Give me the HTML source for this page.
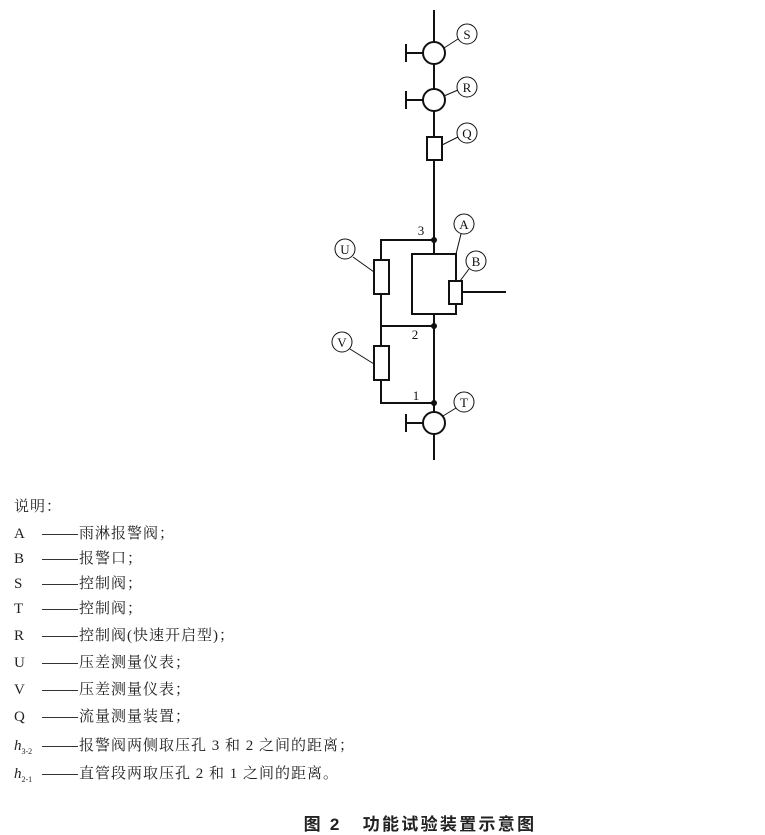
<!DOCTYPE html>
<html><head><meta charset="utf-8"><style>
body{margin:0;width:765px;height:833px;background:#fff;position:relative;overflow:hidden;font-family:"Liberation Serif","Noto Serif CJK SC",serif;color:#222}
.l{position:absolute;left:14px;font-size:15px;line-height:16px;white-space:nowrap;letter-spacing:1px}
.k{display:inline-block;width:28px;letter-spacing:0}
.d{display:inline-block;width:36px;border-top:1px solid #333;vertical-align:middle;margin-right:1px}
.cap{position:absolute;top:810px;left:0;width:840px;text-align:center;font-family:"Liberation Sans","Noto Sans CJK SC",sans-serif;font-size:17px;font-weight:bold;letter-spacing:2.3px}
</style></head><body>
<svg width="765" height="500" style="position:absolute;left:0;top:0" font-family="Liberation Serif, serif" font-size="13">
<g stroke="#111" stroke-width="2" fill="none">
<line x1="434" y1="10" x2="434" y2="460"/>
<circle cx="434" cy="53" r="11" fill="#fff"/><line x1="406" y1="53" x2="423" y2="53"/><line x1="406" y1="44" x2="406" y2="62"/>
<circle cx="434" cy="100" r="11" fill="#fff"/><line x1="406" y1="100" x2="423" y2="100"/><line x1="406" y1="91" x2="406" y2="109"/>
<rect x="427" y="137" width="15" height="23" fill="#fff"/>
<polyline points="434,240 381,240 381,403 434,403"/>
<line x1="381" y1="326" x2="434" y2="326"/>
<rect x="374" y="260" width="15" height="34" fill="#fff"/>
<rect x="374" y="346" width="15" height="34" fill="#fff"/>
<rect x="412" y="254" width="44" height="60" fill="#fff"/>
<rect x="449" y="281" width="13" height="23" fill="#fff"/>
<line x1="462" y1="292" x2="506" y2="292"/>
<circle cx="434" cy="423" r="11" fill="#fff"/><line x1="406" y1="423" x2="423" y2="423"/><line x1="406" y1="414" x2="406" y2="432"/>
</g>
<g stroke="#111" stroke-width="1" fill="#fff">
<line x1="444" y1="48" x2="458" y2="39"/><circle cx="467" cy="34" r="10"/>
<line x1="444" y1="96" x2="458" y2="90"/><circle cx="467" cy="87" r="10"/>
<line x1="442" y1="145" x2="458" y2="137"/><circle cx="467" cy="133" r="10"/>
<line x1="456" y1="254" x2="461" y2="234"/><circle cx="464" cy="224" r="10"/>
<line x1="460" y1="281" x2="469" y2="269"/><circle cx="476" cy="261" r="10"/>
<line x1="353" y1="257" x2="374" y2="272"/><circle cx="345" cy="249" r="10"/>
<line x1="350" y1="349" x2="374" y2="364"/><circle cx="342" cy="342" r="10"/>
<line x1="443" y1="416" x2="456" y2="408"/><circle cx="464" cy="402" r="10"/>
</g>
<g fill="#111"><circle cx="434" cy="240" r="3"/><circle cx="434" cy="326" r="3"/><circle cx="434" cy="403" r="3"/></g>
<g fill="#111" text-anchor="middle">
<text x="467" y="39">S</text><text x="467" y="92">R</text><text x="467" y="138">Q</text>
<text x="464" y="229">A</text><text x="476" y="266">B</text><text x="345" y="254">U</text>
<text x="342" y="347">V</text><text x="464" y="407">T</text>
<text x="421" y="235">3</text><text x="415" y="339">2</text><text x="416" y="400">1</text>
</g>
</svg>
<div class="l" style="top:499px">说明：</div>
<div class="l" style="top:526px"><span class="k">A</span><span class="d"></span>雨淋报警阀；</div>
<div class="l" style="top:551px"><span class="k">B</span><span class="d"></span>报警口；</div>
<div class="l" style="top:576px"><span class="k">S</span><span class="d"></span>控制阀；</div>
<div class="l" style="top:601px"><span class="k">T</span><span class="d"></span>控制阀；</div>
<div class="l" style="top:628px"><span class="k">R</span><span class="d"></span>控制阀(快速开启型)；</div>
<div class="l" style="top:655px"><span class="k">U</span><span class="d"></span>压差测量仪表；</div>
<div class="l" style="top:682px"><span class="k">V</span><span class="d"></span>压差测量仪表；</div>
<div class="l" style="top:709px"><span class="k">Q</span><span class="d"></span>流量测量装置；</div>
<div class="l" style="top:738px"><span class="k"><i>h</i><sub style="font-size:8px">3-2</sub></span><span class="d"></span>报警阀两侧取压孔 3 和 2 之间的距离；</div>
<div class="l" style="top:766px"><span class="k"><i>h</i><sub style="font-size:8px">2-1</sub></span><span class="d"></span>直管段两取压孔 2 和 1 之间的距离。</div>
<div class="cap">图 2&nbsp;&nbsp;&nbsp;功能试验装置示意图</div>
</body></html>
